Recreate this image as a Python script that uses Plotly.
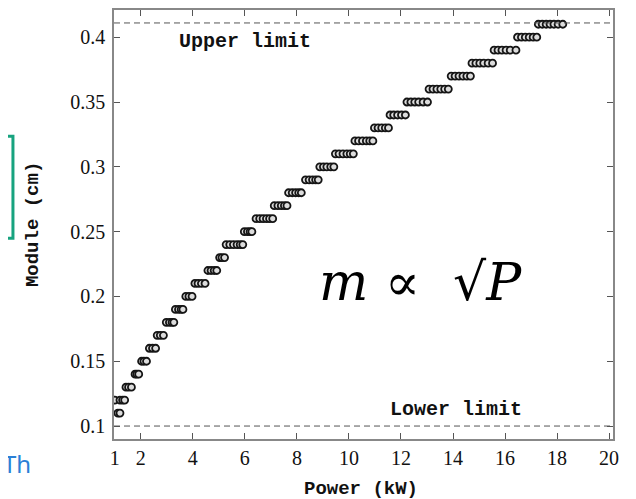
import plotly.graph_objects as go

# Module levels (cm) and the power values (kW) observed at each level
levels = [0.11, 0.12, 0.13, 0.14, 0.15, 0.16, 0.17, 0.18, 0.19, 0.20,
          0.21, 0.22, 0.23, 0.24, 0.25, 0.26, 0.27, 0.28, 0.29, 0.30,
          0.31, 0.32, 0.33, 0.34, 0.35, 0.36, 0.37, 0.38, 0.39, 0.40, 0.41]
power_at_level = [
    [1.12, 1.2],
    [1.0, 1.2, 1.3, 1.38],
    [1.43, 1.53, 1.64],
    [1.78, 1.85, 1.92],
    [2.03, 2.12, 2.22],
    [2.33, 2.45, 2.57],
    [2.63, 2.75, 2.87],
    [2.98, 3.1, 3.2, 3.27],
    [3.33, 3.45, 3.55, 3.62],
    [3.73, 3.85, 3.97],
    [4.08, 4.2, 4.33, 4.47],
    [4.58, 4.7, 4.82, 4.92],
    [5.03, 5.12, 5.22],
    [5.28, 5.42, 5.56, 5.7, 5.82, 5.92],
    [5.98, 6.1, 6.2, 6.27],
    [6.43, 6.57, 6.7, 6.83, 6.95, 7.07],
    [7.13, 7.27, 7.4, 7.52, 7.62],
    [7.68, 7.82, 7.95, 8.07, 8.17],
    [8.33, 8.47, 8.6, 8.72, 8.82],
    [8.88, 9.02, 9.15, 9.3, 9.42],
    [9.48, 9.62, 9.77, 9.92, 10.05, 10.17],
    [10.23, 10.37, 10.52, 10.67, 10.8, 10.92],
    [10.98, 11.12, 11.26, 11.4, 11.52],
    [11.58, 11.72, 11.87, 12.02, 12.17],
    [12.23, 12.38, 12.53, 12.68, 12.85, 13.02],
    [13.08, 13.23, 13.38, 13.53, 13.68, 13.82],
    [13.93, 14.08, 14.23, 14.38, 14.53, 14.67],
    [14.73, 14.88, 15.03, 15.18, 15.35, 15.52],
    [15.58, 15.73, 15.88, 16.04, 16.2, 16.42],
    [16.48, 16.63, 16.78, 16.93, 17.08, 17.22],
    [17.28, 17.43, 17.58, 17.73, 17.88, 18.04, 18.22],
]
upper_limit = 0.411
lower_limit = 0.1
x_ticks = [1, 2, 4, 6, 8, 10, 12, 14, 16, 18, 20]
y_ticks = [0.1, 0.15, 0.2, 0.25, 0.3, 0.35, 0.4]
y_tick_labels = ["0.1", "0.15", "0.2", "0.25", "0.3", "0.35", "0.4"]

xs, ys = [], []
for lv, pw in zip(levels, power_at_level):
    for p in pw:
        xs.append(p)
        ys.append(lv)

fig = go.Figure()
fig.add_trace(go.Scatter(
    x=xs, y=ys, mode="markers",
    marker=dict(symbol="circle", size=7, color="#dcdcdc",
                line=dict(color="#151515", width=1.8)),
    showlegend=False, hoverinfo="skip"))

dash_line = dict(color="#555555", width=1, dash="6px,4px")
fig.add_shape(type="line", xref="paper", x0=0, x1=1, yref="y",
              y0=upper_limit, y1=upper_limit, line=dash_line)
fig.add_shape(type="line", xref="paper", x0=0, x1=1, yref="y",
              y0=lower_limit, y1=lower_limit, line=dash_line)

mono = "Liberation Mono"
serif = "Liberation Serif"

fig.add_annotation(x=3.4, y=0.397, xanchor="left", text="<b>Upper limit</b>",
                   showarrow=False, font=dict(family=mono, size=20, color="#111"))
fig.add_annotation(x=11.5, y=0.1125, xanchor="left", text="<b>Lower limit</b>",
                   showarrow=False, font=dict(family=mono, size=20, color="#111"))
fig.add_annotation(x=12.75, y=0.211, text="<i>m</i> ∝  √<i>P</i>",
                   showarrow=False, font=dict(family="DejaVu Serif", size=52, color="#000"))

# axis titles
fig.add_annotation(xref="paper", yref="paper", x=0.495, y=-0.116,
                   xanchor="center", yanchor="middle", text="<b>Power (kW)</b>",
                   showarrow=False, font=dict(family=mono, size=19, color="#111"))
fig.add_annotation(xref="paper", yref="paper", x=-0.162, y=0.499, textangle=-90,
                   xanchor="center", yanchor="middle", text="<b>Module (cm)</b>",
                   showarrow=False, font=dict(family=mono, size=19, color="#111"))

# decorative artifacts around the cropped figure
teal = "#17a37f"
fig.add_shape(type="path", xref="paper", yref="paper",
              path="M -0.26,0.706 L -0.2025,0.706 L -0.2025,0.468 L -0.26,0.468",
              line=dict(color=teal, width=3))
fig.add_annotation(xref="paper", yref="paper", x=-0.226, y=-0.056,
                   xanchor="left", yanchor="middle",
                   text="Th", showarrow=False,
                   font=dict(family="Noto Sans", size=24, color="#2b7fd6"))

axis_common = dict(showline=True, mirror="ticks", linecolor="#888888", linewidth=1.5,
                   ticks="inside", ticklen=6, tickcolor="#555555",
                   showgrid=False, zeroline=False, automargin=False,
                   tickfont=dict(family=serif, size=20, color="#111"))
fig.update_xaxes(range=[0.97, 20.15], tickvals=x_ticks, **axis_common)
fig.update_yaxes(range=[0.09, 0.421], tickvals=y_ticks, ticktext=y_tick_labels,
                 ticklabelstandoff=3, **axis_common)

fig.update_layout(width=636, height=499, margin=dict(l=106, r=31, t=2, b=68),
                  plot_bgcolor="white", paper_bgcolor="white")

fig.write_html("out.html")
